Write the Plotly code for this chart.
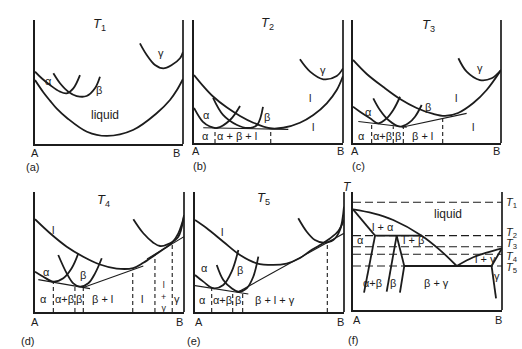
"""Free energy / composition curves at T1..T5 and the resulting phase diagram."""

import plotly.graph_objects as go

INK = "#1c1c1c"
FONT = "Liberation Sans"
W, H = 522, 349

# ── Data: composition (% B) vs free energy (arbitrary units, 0 = frame bottom) ──

# (a) T1
A_LIQUID = ([0, 5.6, 10.1, 14.7, 21.6, 35.1, 48.6, 66.2, 82.4, 91.2, 95.9, 100],
            [51.6, 41.8, 35.0, 28.5, 21.0, 9.9, 6.5, 11.3, 25.0, 35.5, 43.5, 52.4])
A_ALPHA = ([0, 4.5, 10.1, 16.9, 21.4, 25.9, 30.4], [58.3, 53.0, 47.6, 42.2, 40.9, 44.9, 55.6])
A_BETA = ([12.4, 16.9, 22.5, 28.2, 34.9, 40.5, 43.9], [57.0, 49.0, 42.2, 38.7, 38.7, 44.9, 54.3])
A_GAMMA = ([70.9, 75.5, 81.1, 86.7, 92.4, 98.0, 100], [81.2, 71.8, 63.7, 61.0, 63.7, 69.1, 74.2])

# (b) T2
B_LIQUID = ([0, 6.2, 13.0, 21.9, 30.9, 39.8, 51.0, 59.9, 71.1, 80.1, 89.1, 95.8, 100],
            [55.3, 46.3, 37.6, 29.0, 22.0, 16.5, 12.0, 12.4, 16.5, 22.8, 32.3, 43.1, 54.5])
B_ALPHA = ([0, 6.0, 10.7, 15.4, 24.2, 30.9], [28.5, 17.1, 13.4, 12.2, 18.7, 30.1])
B_BETA = ([12.8, 19.5, 28.9, 36.2, 42.3, 46.3], [36.6, 22.8, 14.6, 12.2, 14.6, 29.3])
B_GAMMA = ([71.1, 77.9, 86.8, 95.8, 100], [68.0, 58.0, 51.8, 54.5, 60.7])
B_TANGENTS = [([6.2, 63.3], [12.4, 11.1])]
B_BOUNDS = ([14.1, 51.5], [12.3, 11.6])

# (c) T3
C_LIQUID = ([0, 9.3, 20.5, 31.8, 43.0, 54.3, 62.2, 71.0, 81.3, 90.3, 100],
            [67.5, 56.1, 45.5, 35.8, 28.5, 23.6, 22.0, 24.4, 32.5, 43.1, 59.3])
C_ALPHA = ([0, 4.7, 11.5, 17.1, 22.8, 27.2, 31.8], [29.5, 25.4, 20.1, 16.0, 20.1, 26.8, 37.6])
C_BETA = ([13.7, 18.2, 23.9, 31.8, 37.4, 41.9, 46.4], [36.3, 26.8, 18.7, 13.3, 16.0, 21.4, 30.9])
C_GAMMA = ([71.2, 76.8, 85.8, 93.7, 100], [68.9, 58.0, 51.2, 52.6, 59.3])
C_TANGENTS = [([3.6, 36.3], [17.5, 12.8]), ([32.9, 76.8], [12.8, 24.1])]
C_BOUNDS = ([12.6, 27.2, 34.0, 60.6], [15.8, 13.7, 13.1, 19.9])

# (d) T4
D_LIQUID = ([0, 10.1, 21.3, 32.4, 43.6, 54.8, 65.9, 72.7, 80.5, 86.1, 91.7, 96.2, 100],
            [77.3, 65.6, 54.4, 46.1, 39.6, 36.2, 36.6, 41.0, 47.5, 52.3, 57.3, 65.6, 79.4])
D_ALPHA = ([0, 5.6, 12.3, 19.0, 24.6, 29.1], [33.6, 29.4, 25.3, 28.1, 36.4, 48.9])
D_BETA = ([15.6, 21.3, 25.7, 30.2, 35.8, 40.3, 44.8], [47.5, 32.2, 23.9, 21.1, 23.9, 32.2, 44.8])
D_GAMMA = ([66.0, 72.7, 79.4, 83.9, 90.6, 96.2, 100], [77.3, 65.6, 57.8, 55.0, 57.3, 62.8, 80.8])
D_TANGENTS = [([2.2, 36.9], [27.0, 19.5]), ([32.4, 72.7], [20.5, 38.3]), ([75.2, 100], [44.2, 62.8])]
D_BOUNDS = ([12.3, 26.8, 32.4, 65.6, 80.5, 92.1], [25.0, 22.5, 21.0, 35.5, 47.5, 56.7])

# (e) T5
E_LIQUID = ([0, 7.9, 19.0, 30.2, 41.4, 52.6, 61.5, 70.5, 77.2, 83.9, 90.6, 96.2, 100],
            [76.7, 69.8, 58.6, 47.5, 40.6, 39.2, 40.4, 45.0, 50.8, 55.8, 61.3, 67.5, 76.7])
E_ALPHA = ([0, 5.6, 12.3, 19.0, 24.6, 29.1], [30.8, 25.3, 19.8, 22.5, 33.6, 51.7])
E_BETA = ([14.6, 19.0, 24.6, 29.1, 34.7, 39.1, 42.5], [39.2, 26.7, 19.8, 16.9, 19.8, 29.4, 46.1])
E_GAMMA = ([69.3, 75.0, 80.5, 86.1, 92.8, 97.3, 100], [78.1, 66.9, 60.0, 57.8, 60.0, 68.3, 87.8])
E_TANGENTS = [([0, 35.8], [22.0, 15.0]), ([28.9, 100], [16.7, 65.6])]
E_BOUNDS = ([11.2, 25.3, 32.0, 88.8], [19.7, 16.8, 18.0, 58.0])

# (f) phase diagram: composition (% B) vs temperature (arbitrary units)
T_LEVELS = [91.3, 63.0, 53.6, 47.2, 37.3]
T_LABEL_Y = [90.4, 65.0, 55.9, 45.2, 35.8]
F_LINES = [
    ([0, 13.6, 27.0, 46.1, 58.4, 69.6], [85.3, 81.9, 76.3, 63.0, 50.8, 37.3], "spline"),  # liquidus A side
    ([69.6, 80.7, 89.7, 100], [37.3, 44.7, 48.6, 52.3], "spline"),  # liquidus B side
    ([100, 93.0], [52.3, 37.3], "linear"),  # gamma solidus
    ([34.4, 93.0], [37.3, 37.3], "linear"),  # eutectic
    ([93.0, 96.0], [37.3, 9.9], "linear"),  # gamma solvus
    ([0, 14.8], [85.3, 63.0], "linear"),  # alpha solidus
    ([14.8, 7.4], [63.0, 14.7], "linear"),  # alpha solvus
    ([14.8, 46.1], [63.0, 63.0], "linear"),  # peritectic
    ([29.3, 22.6], [63.0, 15.5], "linear"),  # beta left
    ([29.3, 34.4, 31.5], [63.0, 37.3, 14.7], "linear"),  # beta right
]

# ── Panel layout (px: left, right, top, bottom) ─────────────────────────────

FRAMES = [(35, 183, 20, 144), (194, 343, 20, 143), (353, 501, 20, 143),
          (35, 184, 192, 312), (195, 344, 192, 312), (353, 502, 192, 310)]

fig = go.Figure()


def ax(i):
    return "" if i == 1 else str(i)


for i, (l, r, t, b) in enumerate(FRAMES, start=1):
    s = ax(i)
    common = dict(range=[0, 100], showline=True, linecolor=INK, linewidth=1.7,
                  showticklabels=False, showgrid=False, zeroline=False, ticks="", fixedrange=True)
    fig.layout[f"xaxis{s}"] = dict(domain=[l / W, r / W], anchor=f"y{s}", **common)
    fig.layout[f"yaxis{s}"] = dict(domain=[1 - b / H, 1 - t / H], anchor=f"x{s}", **common)
    fig.add_shape(type="line", xref=f"x{s} domain", yref=f"y{s} domain", x0=1, x1=1, y0=0, y1=1,
                  line=dict(color=INK, width=1.7))


def line(i, x, y, shape="spline", width=1.8, dash="solid"):
    s = ax(i)
    fig.add_trace(go.Scatter(x=x, y=y, mode="lines", xaxis=f"x{s}", yaxis=f"y{s}",
                             line=dict(color=INK, width=width, shape=shape, smoothing=1.0, dash=dash),
                             hoverinfo="skip", showlegend=False))


def bounds(i, xs, tops):
    bx, by = [], []
    for x, top in zip(xs, tops):
        bx += [x, x, None]
        by += [0, top, None]
    line(i, bx, by, shape="linear", width=1.1, dash="4px,3px")


PANEL_CURVES = {
    1: [A_LIQUID, A_ALPHA, A_BETA, A_GAMMA],
    2: [B_LIQUID, B_ALPHA, B_BETA, B_GAMMA],
    3: [C_LIQUID, C_ALPHA, C_BETA, C_GAMMA],
    4: [D_LIQUID, D_ALPHA, D_BETA, D_GAMMA],
    5: [E_LIQUID, E_ALPHA, E_BETA, E_GAMMA],
}
PANEL_TANGENTS = {2: B_TANGENTS, 3: C_TANGENTS, 4: D_TANGENTS, 5: E_TANGENTS}
PANEL_BOUNDS = {2: B_BOUNDS, 3: C_BOUNDS, 4: D_BOUNDS, 5: E_BOUNDS}

for i, curves in PANEL_CURVES.items():
    for x, g in curves:
        line(i, x, g)
for i, tans in PANEL_TANGENTS.items():
    for x, g in tans:
        line(i, x, g, shape="linear", width=1.1)
for i, (xs, tops) in PANEL_BOUNDS.items():
    bounds(i, xs, tops)

for lv in T_LEVELS:
    line(6, [0, 100], [lv, lv], shape="linear", width=1.1, dash="8px,4px")
for x, y, shape in F_LINES:
    line(6, x, y, shape=shape, width=1.8)

# ── Text ─────────────────────────────────────────────────────────────────────

LABELS = {
    1: [("α", 8.8, 51.0), ("β", 43.2, 43.5), ("liquid", 47.3, 23.4), ("γ", 85.1, 73.4)],
    2: [("α", 8.7, 22.8), ("β", 49.0, 21.1), ("l", 77.9, 36.6), ("γ", 86.6, 59.3), ("l", 79.9, 13.0),
        ("α", 7.6, 5.9), ("α + β + l", 28.8, 5.9)],
    3: [("α", 10.3, 25.4), ("β", 50.9, 29.5), ("l", 69.6, 36.3), ("γ", 85.8, 60.7), ("l", 81.3, 13.3),
        ("α", 5.5, 5.9), ("α+β", 19.8, 5.9), ("β", 30.6, 5.9), ("β + l", 46.8, 5.9)],
    4: [("l", 12.1, 68.3), ("α", 7.9, 33.0), ("β", 32.0, 30.5),
        ("α", 5.6, 10.5), ("α+β", 19.5, 10.5), ("β", 29.6, 10.5), ("β + l", 45.0, 10.5),
        ("l", 71.6, 10.5), ("γ", 95.5, 10.5)],
    5: [("l", 17.9, 66.9), ("α", 6.7, 36.4), ("β", 30.2, 35.0),
        ("α", 5.2, 10.0), ("α+β", 18.3, 10.0), ("β", 28.7, 10.0), ("β + l + γ", 53.7, 10.0)],
    6: [("liquid", 64.0, 81.1), ("l + α", 20.3, 70.1), ("α", 4.7, 59.3), ("l + β", 40.5, 59.3),
        ("l + γ", 88.6, 43.0), ("γ", 96.4, 28.8), ("α+β", 13.2, 22.6), ("β", 27.0, 22.6),
        ("β + γ", 56.2, 22.6)],
}
TITLES = {1: ("1", 43.9, 96.0), 2: ("2", 49.0, 97.0), 3: ("3", 50.7, 95.9),
          4: ("4", 45.8, 93.3), 5: ("5", 45.8, 94.7)}
PANEL_TAGS = ["(a)", "(b)", "(c)", "(d)", "(e)", "(f)"]
TAG_X = [-1.4, 4.0, 3.4, -4.7, -1.3, 0.0]
TAG_Y = [-18.3, -18.3, -18.3, -24.0, -24.0, -25.0]
A_X = [0.0, 1.3, 1.4, 0.0, 2.7, 2.7]
B_X = [95.7, 98.0, 97.0, 96.8, 97.8, 97.5]
AB_Y = [-6.9, -6.9, -6.9, -8.3, -8.3, -8.5]


def text(i, x, y, t, size=11, xanchor="center"):
    # domain refs so labels outside the frame are still drawn (range is 0..100)
    s = ax(i)
    fig.add_annotation(x=x / 100, y=y / 100, xref=f"x{s} domain", yref=f"y{s} domain", text=t,
                       showarrow=False, xanchor=xanchor, yanchor="middle",
                       font=dict(family=FONT, size=size, color=INK))


for i, items in LABELS.items():
    for t, x, y in items:
        text(i, x, y, t, size=11 if t != "liquid" else 12)
# stacked "l + γ" region label in (d)
text(4, 86.3, 13.0, "l<br>+<br>γ", size=9)
for i, (n, x, y) in TITLES.items():
    text(i, x, y, f"<i>T</i><sub>{n}</sub>", size=13)
for i in range(1, 7):
    text(i, A_X[i - 1], AB_Y[i - 1], "A", size=11)
    text(i, B_X[i - 1], AB_Y[i - 1], "B", size=11)
    text(i, TAG_X[i - 1], TAG_Y[i - 1], PANEL_TAGS[i - 1], size=11)
text(6, -3.8, 104.5, "<i>T</i>", size=12)
for n, y in enumerate(T_LABEL_Y, start=1):
    text(6, 101.5, y, f"<i>T</i><sub>{n}</sub>", size=11, xanchor="left")

fig.update_layout(width=W, height=H, margin=dict(l=0, r=0, t=0, b=0),
                  paper_bgcolor="white", plot_bgcolor="white", showlegend=False)
fig.write_html("out.html", config={"displayModeBar": False},
               post_script="document.body.style.margin = '0';")
